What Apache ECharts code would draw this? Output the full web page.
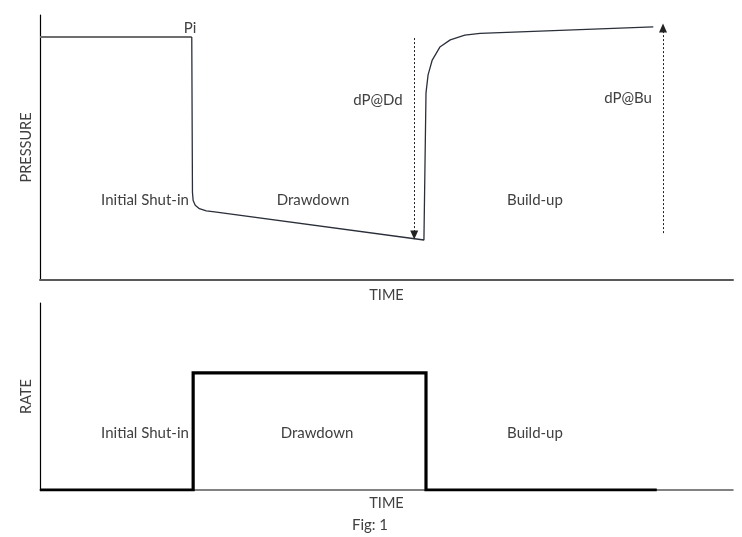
<!DOCTYPE html>
<html><head><meta charset="utf-8">
<script src="https://cdn.jsdelivr.net/npm/echarts@6/dist/echarts.min.js"></script>
<style>html,body{margin:0;padding:0;background:#fff}#c{width:742px;height:537px}</style>
</head><body><div id="c"></div>
<script>
// Pressure history (time 0-100, pressure 0-100, arbitrary units)
const piSegment = [[0, 91.7], [21.9, 91.7]];
const pressureCurve = [
  [21.9, 91.7], [22.0, 33], [22.1, 30], [22.4, 28.2], [23.0, 26.9], [24.0, 26.1], [25.2, 25.7],
  [55.4, 15.1], [55.7, 70.6], [56.0, 77.4], [56.6, 83.0], [57.7, 87.9], [59.2, 90.6],
  [61.3, 92.4], [63.5, 93.1], [88.5, 95.5]
];
// Rate history
const rateSteps = [[0, 0], [22.1, 0], [22.1, 62.6], [55.7, 62.6], [55.7, 0], [89.0, 0]];
// Arrows: [time, from pressure, to pressure]
const arrowDd = [54.0, 91.3, 17.0];
const arrowBu = [89.9, 17.7, 95.1];

const txt = '#404040';
const font = 'Lato, "Open Sans", sans-serif';
const chart = echarts.init(document.getElementById('c'));
function t(x, y, s) {
  return { type: 'text', x: x, y: y, silent: true,
    style: { text: s, fill: txt, font: '15px ' + font, align: 'center', verticalAlign: 'middle' } };
}
const nameStyle = { color: txt, fontSize: 14.5, fontFamily: font };
chart.setOption({
  animation: false,
  textStyle: { fontFamily: font },
  grid: [
    { left: 40, right: 9, top: 15, height: 265 },
    { left: 40, right: 9, top: 303, height: 187 }
  ],
  xAxis: [
    { gridIndex: 0, type: 'value', min: 0, max: 100, name: 'TIME', nameLocation: 'middle', nameGap: 8,
      nameTextStyle: nameStyle,
      axisLine: { lineStyle: { color: '#595959', width: 2 } }, axisTick: { show: false }, axisLabel: { show: false }, splitLine: { show: false } },
    { gridIndex: 1, type: 'value', min: 0, max: 100, name: 'TIME', nameLocation: 'middle', nameGap: 6,
      nameTextStyle: nameStyle,
      axisLine: { lineStyle: { color: '#595959', width: 1.5 } }, axisTick: { show: false }, axisLabel: { show: false }, splitLine: { show: false } }
  ],
  yAxis: [
    { gridIndex: 0, type: 'value', min: 0, max: 100, name: 'PRESSURE', nameLocation: 'middle', nameGap: 6, nameRotate: 90,
      nameTextStyle: nameStyle,
      axisLine: { show: true, lineStyle: { color: '#000', width: 1.2 } }, axisTick: { show: false }, axisLabel: { show: false }, splitLine: { show: false } },
    { gridIndex: 1, type: 'value', min: 0, max: 100, name: 'RATE', nameLocation: 'middle', nameGap: 6, nameRotate: 90,
      nameTextStyle: nameStyle,
      axisLine: { show: true, lineStyle: { color: '#000', width: 1.2 } }, axisTick: { show: false }, axisLabel: { show: false }, splitLine: { show: false } }
  ],
  series: [
    { type: 'line', xAxisIndex: 0, yAxisIndex: 0, data: piSegment, showSymbol: false, symbol: 'none',
      lineStyle: { color: '#6e6e6e', width: 2 } },
    { type: 'line', xAxisIndex: 0, yAxisIndex: 0, data: pressureCurve, showSymbol: false, symbol: 'none',
      lineStyle: { color: '#2a2f3a', width: 1.3 },
      markLine: { silent: true, symbol: ['none', 'triangle'], symbolSize: [8, 9], label: { show: false },
        lineStyle: { type: [2, 2], color: '#222', width: 1 },
        data: [
          [{ coord: [arrowDd[0], arrowDd[1]] }, { coord: [arrowDd[0], arrowDd[2]] }],
          [{ coord: [arrowBu[0], arrowBu[1]] }, { coord: [arrowBu[0], arrowBu[2]] }]
        ] } },
    { type: 'line', xAxisIndex: 1, yAxisIndex: 1, data: rateSteps, showSymbol: false, symbol: 'none',
      lineStyle: { color: '#000', width: 3.2, join: 'miter' } }
  ],
  graphic: [
    t(190, 28, 'Pi'),
    t(145, 200, 'Initial Shut-in'),
    t(313, 200, 'Drawdown'),
    t(378, 100, 'dP@Dd'),
    t(628, 98, 'dP@Bu'),
    t(535, 200, 'Build-up'),
    t(145, 433, 'Initial Shut-in'),
    t(317, 433, 'Drawdown'),
    t(535, 433, 'Build-up'),
    t(370, 525, 'Fig: 1')
  ]
});
</script></body></html>
